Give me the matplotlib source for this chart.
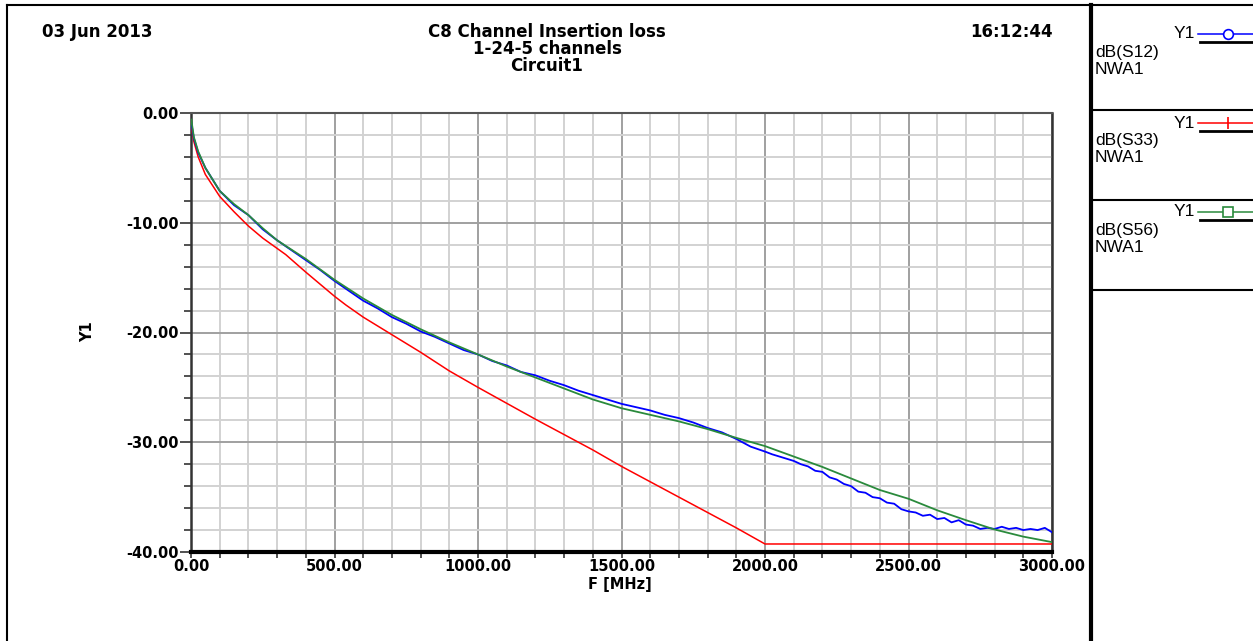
import matplotlib
matplotlib.use("Agg")
import matplotlib.pyplot as plt
from matplotlib.lines import Line2D
from matplotlib.ticker import MultipleLocator, FormatStrFormatter

W, H = 1253, 641

# --- data ---
freq_smooth = [1, 10, 25, 50, 100, 150, 200, 250, 300, 400, 500, 600, 700, 800,
               900, 1000, 1100, 1200, 1300, 1400, 1500, 1600, 1700, 1800, 1900,
               2000, 2100, 2200, 2300, 2400, 2500, 2600, 2700, 2800, 2900, 3000]

s56_db = [-0.6, -2.2, -3.5, -5.0, -7.1, -8.3, -9.3, -10.5, -11.6, -13.3, -15.2,
          -16.9, -18.4, -19.7, -20.9, -22.0, -23.1, -24.1, -25.1, -26.1, -26.9,
          -27.5, -28.1, -28.8, -29.6, -30.35, -31.3, -32.25, -33.3, -34.35, -35.15,
          -36.2, -37.1, -37.95, -38.6, -39.1]

s33_freq = [1, 10, 25, 50, 100, 150, 200, 250, 330, 400, 500, 540, 600, 700, 800,
            900, 1000, 1100, 1200, 1300, 1400, 1500, 1600, 1700, 1800, 1900, 2000,
            3000]
s33_db = [-1.2, -2.6, -4.0, -5.6, -7.6, -9.0, -10.3, -11.4, -12.9, -14.5, -16.7,
          -17.5, -18.6, -20.2, -21.8, -23.5, -25.0, -26.45, -27.9, -29.3, -30.7,
          -32.2, -33.6, -35.0, -36.4, -37.8, -39.27, -39.27]

s12_freq = [1, 10, 25, 50, 100, 150, 200, 250, 300, 350, 400, 450, 500, 550, 600,
            650, 700, 750, 800, 850, 900, 950, 1000, 1050, 1100, 1150, 1200, 1250,
            1300, 1350, 1400, 1450, 1500, 1550, 1600, 1650, 1700, 1750, 1800, 1850,
            1900, 1950, 2000, 2025, 2050, 2075, 2100, 2125, 2150, 2175, 2200, 2225,
            2250, 2275, 2300, 2325, 2350, 2375, 2400, 2425, 2450, 2475, 2500, 2525,
            2550, 2575, 2600, 2625, 2650, 2675, 2700, 2725, 2750, 2775, 2800, 2825,
            2850, 2875, 2900, 2925, 2950, 2975, 3000]
s12_db = [-0.9, -2.3, -3.6, -5.0, -7.1, -8.4, -9.3, -10.6, -11.6, -12.5, -13.4,
          -14.3, -15.3, -16.2, -17.1, -17.8, -18.6, -19.2, -19.9, -20.4, -21.0,
          -21.6, -22.0, -22.6, -23.0, -23.6, -23.9, -24.4, -24.8, -25.3, -25.7,
          -26.1, -26.5, -26.8, -27.1, -27.5, -27.8, -28.2, -28.7, -29.1, -29.7,
          -30.4, -30.85, -31.1, -31.3, -31.5, -31.7, -32.0, -32.2, -32.6, -32.7,
          -33.2, -33.4, -33.8, -34.0, -34.5, -34.6, -35.0, -35.1, -35.5, -35.6,
          -36.1, -36.3, -36.4, -36.7, -36.6, -37.0, -36.9, -37.3, -37.1, -37.5,
          -37.6, -37.9, -37.8, -37.9, -37.7, -37.9, -37.8, -38.0, -37.9, -38.0,
          -37.8, -38.2]

legend_names = ["dB(S12)", "dB(S33)", "dB(S56)"]
legend_colors = ["#0000ff", "#ff0000", "#2a8a3c"]
legend_markers = ["o", "|", "s"]

BOLD_FONT = "DejaVu Sans"
PLAIN_FONT = "Liberation Sans"


def fx(x):
    return x / W


def fy(y):
    return 1 - y / H


def hline(fig, x0, x1, y, lw=1.0, color="black"):
    fig.add_artist(Line2D([fx(x0), fx(x1)], [fy(y), fy(y)], color=color, lw=lw,
                          transform=fig.transFigure))


def vline(fig, x, y0, y1, lw=1.0, color="black"):
    fig.add_artist(Line2D([fx(x), fx(x)], [fy(y0), fy(y1)], color=color, lw=lw,
                          transform=fig.transFigure))


def main():
    fig = plt.figure(figsize=(W / 100, H / 100), dpi=100)
    fig.patch.set_facecolor("white")

    ax = fig.add_axes([fx(191), fy(552), fx(1052) - fx(191), fy(113) - fy(552)])
    ax.plot(s33_freq, s33_db, color="#ff0000", lw=1.1, zorder=3)
    ax.plot(freq_smooth, s56_db, color="#2a8a3c", lw=1.3, zorder=4)
    ax.plot(s12_freq, s12_db, color="#0000ff", lw=1.3, zorder=3)

    ax.set_xlim(0, 3000)
    ax.set_ylim(-40, 0)
    ax.xaxis.set_major_locator(MultipleLocator(500))
    ax.xaxis.set_minor_locator(MultipleLocator(100))
    ax.yaxis.set_major_locator(MultipleLocator(10))
    ax.yaxis.set_minor_locator(MultipleLocator(2))
    ax.xaxis.set_major_formatter(FormatStrFormatter("%.2f"))
    ax.yaxis.set_major_formatter(FormatStrFormatter("%.2f"))
    ax.grid(which="minor", color="#d2d2d2", lw=1.4, zorder=0)
    ax.grid(which="major", color="#a0a0a0", lw=1.4, zorder=1)
    ax.set_axisbelow(True)

    ax.tick_params(axis="both", which="both", direction="out", colors="#333333",
                   width=1.2)
    ax.tick_params(axis="y", which="major", length=8, pad=1)
    ax.tick_params(axis="y", which="minor", length=5)
    ax.tick_params(axis="x", which="major", length=4, pad=1)
    ax.tick_params(axis="x", which="minor", length=4)
    for lab in ax.get_xticklabels() + ax.get_yticklabels():
        lab.set_fontfamily(BOLD_FONT)
        lab.set_fontweight("bold")
        lab.set_fontsize(10.5)
        lab.set_color("black")

    ax.spines["left"].set_color("#333333")
    ax.spines["left"].set_linewidth(1.8)
    ax.spines["right"].set_color("#333333")
    ax.spines["right"].set_linewidth(1.8)
    ax.spines["top"].set_color("#555555")
    ax.spines["top"].set_linewidth(1.5)
    ax.spines["bottom"].set_color("black")
    ax.spines["bottom"].set_linewidth(3)

    txt = dict(fontfamily=BOLD_FONT, fontweight="bold", fontsize=10.5, va="center")
    fig.text(fx(620), fy(585), "F [MHz]", ha="center", **txt)
    fig.text(fx(88), fy(332), "Y1", ha="center", rotation=90, **txt)

    # --- header texts ---
    head = dict(txt, fontsize=12)
    fig.text(fx(42), fy(32), "03 Jun 2013", ha="left", **head)
    fig.text(fx(1053), fy(32), "16:12:44", ha="right", **head)
    for i, line in enumerate(["C8 Channel Insertion loss", "1-24-5 channels", "Circuit1"]):
        fig.text(fx(547), fy(32 + 17 * i), line, ha="center", **head)

    # --- outer frame and legend panel ---
    hline(fig, 7, W, 5, lw=1.5)
    vline(fig, 7, 5, H, lw=1.5)
    vline(fig, 1091, 5, H, lw=3)
    for y in (110, 200, 290):
        hline(fig, 1091, W, y, lw=1.5)

    leg_txt = dict(fontfamily=PLAIN_FONT, fontsize=12.5, va="center")
    for i, (name, color, marker) in enumerate(zip(legend_names, legend_colors,
                                                 legend_markers)):
        y0 = 34 + 89 * i
        fig.text(fx(1195), fy(y0), "Y1", ha="right", **leg_txt)
        fig.add_artist(Line2D([fx(1198), fx(W)], [fy(y0), fy(y0)], color=color,
                              lw=1.1, transform=fig.transFigure))
        fig.add_artist(Line2D([fx(1228)], [fy(y0)], color=color, marker=marker,
                              markersize=9 if marker == "|" else 7,
                              markerfacecolor="white", markeredgewidth=1.2,
                              transform=fig.transFigure))
        hline(fig, 1200, W, y0 + 8, lw=2)
        fig.text(fx(1095), fy(y0 + 18), name, ha="left", **leg_txt)
        fig.text(fx(1095), fy(y0 + 35), "NWA1", ha="left", **leg_txt)

    fig.savefig("out.png", dpi=100, facecolor="white")
    plt.close(fig)


if __name__ == "__main__":
    main()
